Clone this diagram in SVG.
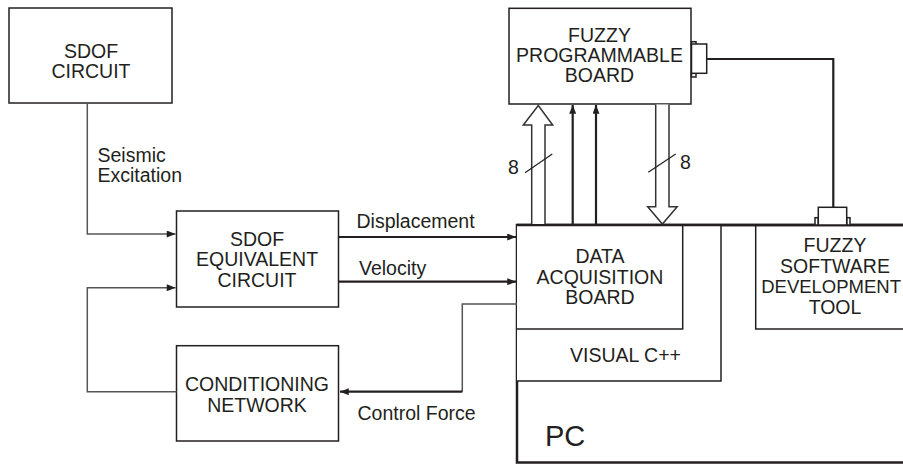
<svg xmlns="http://www.w3.org/2000/svg" width="903" height="464" viewBox="0 0 903 464">
<style>
text{font-family:"Liberation Sans",Arial,sans-serif;font-size:19.5px;fill:#231f20}
.c{text-anchor:middle}
.box{fill:#fff;stroke:#231f20;stroke-width:1.5}
.thin{fill:none;stroke:#555;stroke-width:1.5}
.thick{fill:none;stroke:#231f20;stroke-width:2.2}
.hollow{fill:#fff;stroke:#333;stroke-width:1.5}
</style>
<defs>
<marker id="ah" viewBox="0 0 10 8" refX="10" refY="4" markerWidth="10" markerHeight="7" markerUnits="userSpaceOnUse" orient="auto">
<path d="M0,0 L10,4 L0,8 Z" fill="#231f20"/>
</marker>
</defs>

<g id="pc">
<rect x="517" y="225" width="400" height="237.5" fill="#fff" stroke="#231f20" stroke-width="2.5"/>
<text x="545" y="446" style="font-size:29px">PC</text>
</g>
<g id="visual-cpp">
<path class="box" d="M517,225 H721 V381 H517"/>
<text x="570" y="362">VISUAL C++</text>
</g>
<g id="data-acquisition">
<path class="box" d="M517,225 H682.7 V329 H517"/>
<text class="c" x="600" y="263">DATA</text>
<text class="c" x="600" y="284">ACQUISITION</text>
<text class="c" x="600" y="304">BOARD</text>
</g>
<g id="fuzzy-software">
<path class="box" d="M755.7,226 V329 H905"/>
<text class="c" x="835" y="252">FUZZY</text>
<text class="c" x="835" y="273">SOFTWARE</text>
<text x="901" y="293" style="text-anchor:end;font-size:18.5px">DEVELOPMENT</text>
<text class="c" x="835" y="313.5">TOOL</text>
</g>
<line x1="517" y1="225" x2="903" y2="225" stroke="#231f20" stroke-width="2.5"/>

<g id="sdof-circuit">
<rect class="box" x="9" y="8" width="163" height="95"/>
<text class="c" x="91" y="57.5">SDOF</text>
<text class="c" x="91" y="77.5">CIRCUIT</text>
</g>
<g id="sdof-equivalent">
<rect class="box" x="176.5" y="211" width="162" height="96"/>
<text class="c" x="257" y="246">SDOF</text>
<text class="c" x="257" y="266">EQUIVALENT</text>
<text class="c" x="257" y="287">CIRCUIT</text>
</g>
<g id="conditioning-network">
<rect class="box" x="176.5" y="345.7" width="162" height="95.3"/>
<text class="c" x="257" y="391">CONDITIONING</text>
<text class="c" x="257" y="412">NETWORK</text>
</g>
<g id="fuzzy-programmable">
<rect class="box" x="509" y="8.3" width="182" height="95.7"/>
<text class="c" x="599.5" y="41.5">FUZZY</text>
<text class="c" x="599.5" y="61.8">PROGRAMMABLE</text>
<text class="c" x="599.5" y="82">BOARD</text>
<rect class="box" x="691.5" y="41.7" width="4.5" height="3.3"/>
<rect class="box" x="691.5" y="73.3" width="4.5" height="3.7"/>
<rect class="box" x="691.5" y="44" width="15.2" height="29.3"/>
</g>
<g id="connector-pc">
<rect class="box" x="815" y="217.7" width="3.3" height="7.3"/>
<rect class="box" x="846.7" y="217.7" width="3.3" height="7.3"/>
<rect class="box" x="818.3" y="207.3" width="28.4" height="17.7"/>
</g>

<g id="connectors">
<polyline class="thin" points="87.3,103 87.3,234 175.5,234" marker-end="url(#ah)"/>
<polyline class="thin" points="176.5,391.7 87.3,391.7 87.3,287.7 175.5,287.7" marker-end="url(#ah)"/>
<line class="thick" x1="338.5" y1="237" x2="516" y2="237" marker-end="url(#ah)"/>
<line class="thick" x1="338.5" y1="281.7" x2="516" y2="281.7" marker-end="url(#ah)"/>
<polyline class="thin" points="517,304 462.3,304 462.3,391.7"/>
<line class="thick" x1="462.3" y1="391.7" x2="340" y2="391.7" marker-end="url(#ah)"/>
<path class="hollow" d="M531.7,224 V125 H523.3 L538.3,105.5 L552.7,125 H545 V224"/>
<line class="thick" x1="572.7" y1="224" x2="572.7" y2="105" marker-end="url(#ah)"/>
<line class="thick" x1="596" y1="224" x2="596" y2="105" marker-end="url(#ah)"/>
<path class="hollow" d="M655.7,104.5 V206.7 H647.7 L662.4,224 L677.2,206.7 H669 V104.5"/>
<line x1="525" y1="172.7" x2="552.3" y2="154" stroke="#231f20" stroke-width="1.2"/>
<line x1="648.3" y1="172.3" x2="675.7" y2="154" stroke="#231f20" stroke-width="1.2"/>
<polyline class="thick" points="706.7,59 833.3,59 833.3,207.3"/>
</g>

<g id="labels">
<text x="97.5" y="162">Seismic</text>
<text x="97.5" y="182">Excitation</text>
<text x="356.5" y="228">Displacement</text>
<text x="359" y="275">Velocity</text>
<text x="357.5" y="419.5">Control Force</text>
<text x="508" y="174">8</text>
<text x="680" y="168.5">8</text>
</g>
</svg>
